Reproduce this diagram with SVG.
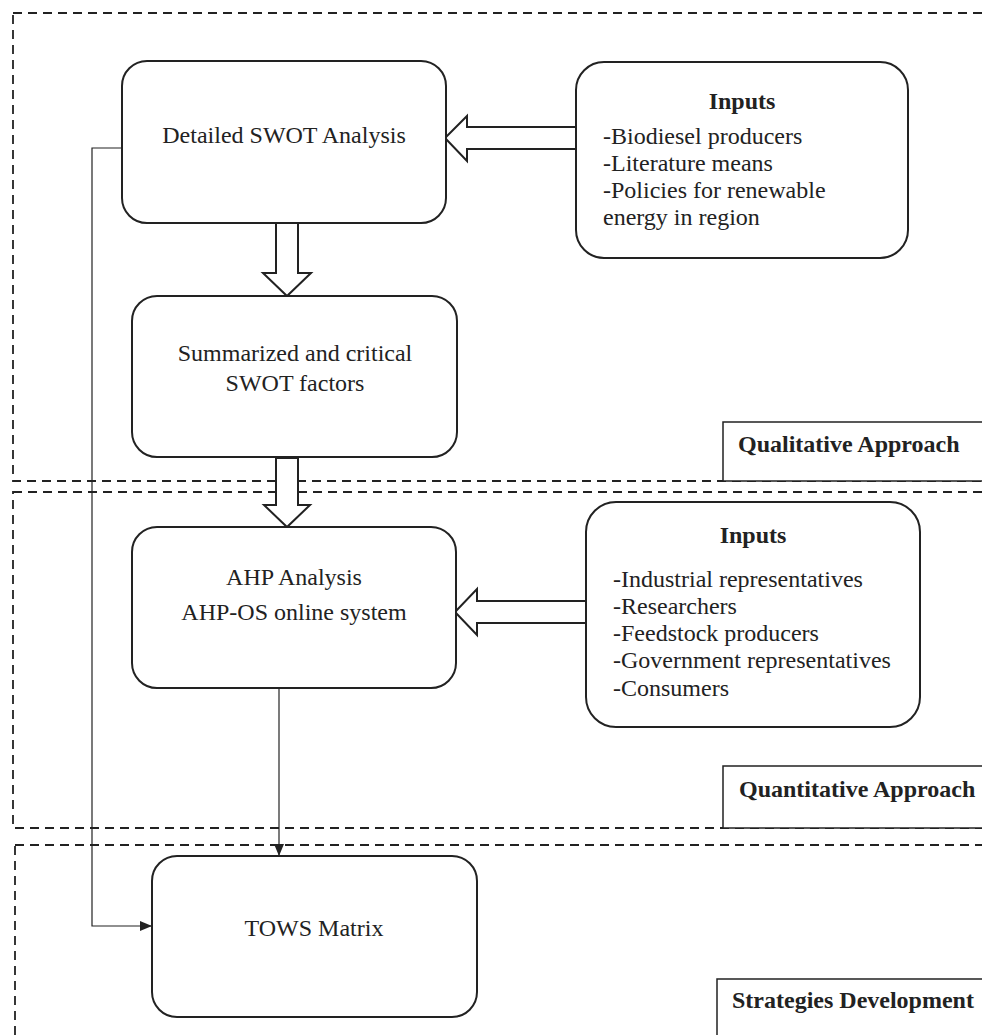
<svg xmlns="http://www.w3.org/2000/svg" width="982" height="1035" viewBox="0 0 982 1035">
<style>
.region{fill:none;stroke:#222;stroke-width:1.8;stroke-dasharray:9 6}
.box{fill:#fff;stroke:#222;stroke-width:2}
.label{fill:#fff;stroke:#222;stroke-width:1.5}
.blk{fill:#fff;stroke:#222;stroke-width:2;stroke-linejoin:miter}
.conn{fill:none;stroke:#222;stroke-width:1.2}
text{font-family:"Liberation Serif","Times New Roman",serif;font-size:24px;fill:#222}
.b{font-weight:bold}
.c{text-anchor:middle}
</style>
<defs>
<marker id="ah" markerWidth="12" markerHeight="10" refX="12" refY="5" orient="auto" markerUnits="userSpaceOnUse">
<path d="M0,0 L12,5 L0,10 Z" fill="#222"/>
</marker>
</defs>
<g id="regions">
<rect class="region" x="13" y="13" width="1000" height="468"/>
<rect class="region" x="13" y="492" width="1000" height="336"/>
<rect class="region" x="15" y="845" width="1000" height="250"/>
</g>
<g id="label-qualitative">
<rect class="label" x="723" y="422" width="300" height="59"/>
<text class="b" x="738" y="452">Qualitative Approach</text>
</g>
<g id="label-quantitative">
<rect class="label" x="723" y="766" width="300" height="62"/>
<text class="b" x="739" y="797">Quantitative Approach</text>
</g>
<g id="label-strategies">
<rect class="label" x="717" y="979" width="300" height="80"/>
<text class="b" x="732" y="1008">Strategies Development</text>
</g>
<g id="connectors">
<polyline class="conn" points="122,148 92,148 92,926 152,926" marker-end="url(#ah)"/>
<line class="conn" x1="279" y1="688" x2="279" y2="856" marker-end="url(#ah)"/>
<polygon class="blk" points="576,127 467,127 467,116 445,138 467,161 467,149 576,149"/>
<polygon class="blk" points="276,223 298,223 298,273 311,273 287,296 263,273 276,273"/>
<polygon class="blk" points="276,458 298,458 298,505 310,505 287,527 264,505 276,505"/>
<polygon class="blk" points="586,601 477,601 477,589 455,612 477,635 477,623 586,623"/>
</g>
<g id="swot">
<rect class="box" x="122" y="61" width="324" height="162" rx="25"/>
<text class="c" x="284" y="143">Detailed SWOT Analysis</text>
</g>
<g id="inputs1">
<rect class="box" x="576" y="62" width="332" height="196" rx="28"/>
<text class="b c" x="742" y="109">Inputs</text>
<text x="603" y="144">-Biodiesel producers</text>
<text x="603" y="171">-Literature means</text>
<text x="603" y="198">-Policies for renewable</text>
<text x="603" y="225">energy in region</text>
</g>
<g id="summarized">
<rect class="box" x="132" y="296" width="325" height="161" rx="25"/>
<text class="c" x="295" y="361">Summarized and critical</text>
<text class="c" x="295" y="391">SWOT factors</text>
</g>
<g id="ahp">
<rect class="box" x="132" y="527" width="324" height="161" rx="25"/>
<text class="c" x="294" y="585">AHP Analysis</text>
<text class="c" x="294" y="620">AHP-OS online system</text>
</g>
<g id="inputs2">
<rect class="box" x="586" y="502" width="334" height="225" rx="30"/>
<text class="b c" x="753" y="543">Inputs</text>
<text x="613" y="587">-Industrial representatives</text>
<text x="613" y="614">-Researchers</text>
<text x="613" y="641">-Feedstock producers</text>
<text x="613" y="668">-Government representatives</text>
<text x="613" y="696">-Consumers</text>
</g>
<g id="tows">
<rect class="box" x="152" y="856" width="325" height="161" rx="25"/>
<text class="c" x="314" y="936">TOWS Matrix</text>
</g>
</svg>
